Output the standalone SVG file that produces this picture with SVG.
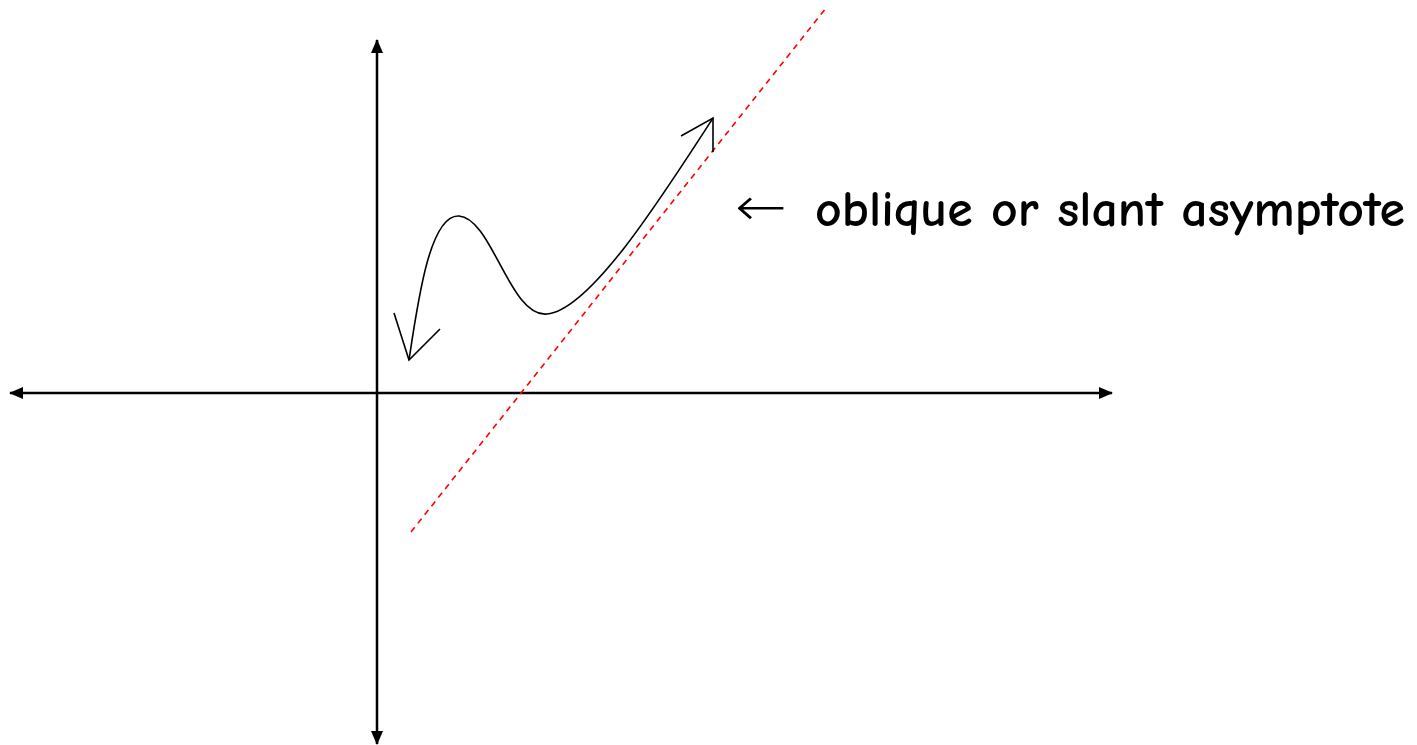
<svg xmlns="http://www.w3.org/2000/svg" width="1417" height="745" viewBox="0 0 1417 745">
<style>
.axis{stroke:#000;stroke-width:2.5;fill:none}
.curve{stroke:#000;stroke-width:1.6;fill:none}
.asym{stroke:#ff0000;stroke-width:1.6;stroke-dasharray:6,5;fill:none}
.label{font-family:"Comic Neue","Liberation Sans",sans-serif;font-size:50px;font-weight:bold;fill:#000}
.arr{font-family:"DejaVu Sans",sans-serif;font-size:54px;font-weight:200;fill:#000}
</style>
<defs>
<marker id="ah" viewBox="0 0 14 12" refX="13" refY="6" markerWidth="14" markerHeight="12" markerUnits="userSpaceOnUse" orient="auto">
<path d="M0,0 L14,6 L0,12 Z" fill="#000"/>
</marker>
</defs>
<rect width="1417" height="745" fill="#fff"/>
<g id="connectors">
<line id="x-axis" class="axis" x1="377" y1="393" x2="10" y2="393" marker-end="url(#ah)"/>
<line class="axis" x1="377" y1="393" x2="1112" y2="393" marker-end="url(#ah)"/>
<line id="y-axis" class="axis" x1="377" y1="393" x2="377" y2="40" marker-end="url(#ah)"/>
<line class="axis" x1="377" y1="393" x2="377" y2="744" marker-end="url(#ah)"/>
</g>
<g id="asymptote">
<line class="asym" x1="411" y1="532" x2="826" y2="8"/>
</g>
<g id="curve">
<path class="curve" d="M409,360 C418,300 430,214 459,216 C492,218 510,318 547,314 C590,310 660,200 713,118"/>
<path class="curve" d="M394,313 L409,360 L440,329"/>
<path class="curve" d="M681,136 L713,118 L713,152"/>
</g>
<g id="label">
<text class="arr" x="735" y="225" textLength="52" lengthAdjust="spacingAndGlyphs">←</text>
<text class="label" x="815" y="226" textLength="590" lengthAdjust="spacingAndGlyphs">oblique or slant asymptote</text>
</g>
</svg>
